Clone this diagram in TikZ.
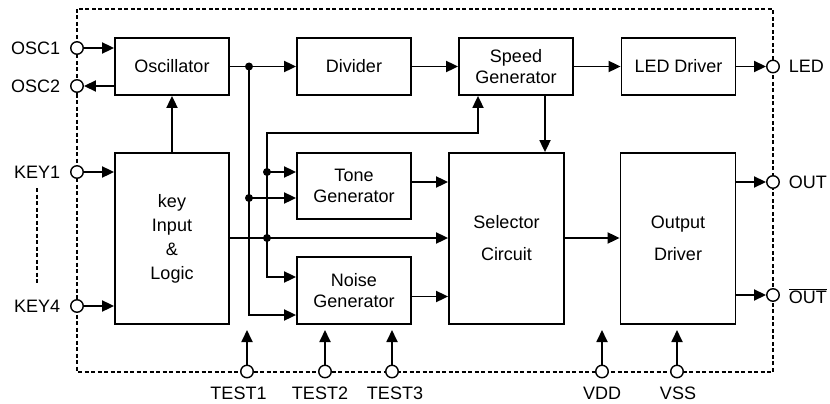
\documentclass[tikz,border=0pt]{standalone}
\usepackage{fontspec}
\setmainfont{Liberation Sans}
\usetikzlibrary{arrows.meta,calc}
\begin{document}
\begin{tikzpicture}[x=1pt,y=-1pt, line width=1.8pt,
  blk/.style={draw, minimum width=114pt, inner sep=0pt, align=center, font=\fontsize{18}{21.5}\selectfont},
  pinc/.style={circle, draw, fill=white, minimum size=12.5pt, inner sep=0pt, line width=1.4pt},
  arr/.style={-{Triangle[length=12pt,width=11pt]}},
  jdot/.style={circle, fill, inner sep=0pt, minimum size=8pt},
  lbl/.style={font=\fontsize{18}{20}\selectfont, inner sep=0pt},
  bord/.style={line width=1.2pt, dash pattern=on 4pt off 2.5pt}]
\useasboundingbox (0,0) rectangle (830,404);
\draw[bord] (77,9) rectangle (773,372);

% blocks
\node[blk, minimum height=57pt] (osc) at (172,66.5) {Oscillator};
\node[blk, minimum height=57pt] (div) at (354,66.5) {Divider};
\node[blk, minimum height=57pt] (spd) at (516,66.5) {Speed\\Generator};
\node[blk, minimum height=57pt] (led) at (678.5,66.5) {LED Driver};
\node[blk, minimum height=171pt] (key) at (172,238.5) {key\\[2.5pt]Input\\[2.5pt]\&\\[2.5pt]Logic};
\node[blk, minimum height=66pt] (tone) at (354,186) {Tone\\Generator};
\node[blk, minimum height=67pt] (noise) at (354,290.5) {Noise\\Generator};
\node[blk, minimum height=171pt, minimum width=115pt] (sel) at (506.5,238.5) {Selector\\[10.5pt]Circuit};
\node[blk, minimum height=171pt, minimum width=115pt] (outd) at (678,238.5) {Output\\[10.5pt]Driver};

% pins
\node[pinc] (osc1) at (77,48) {};
\node[pinc] (osc2) at (77,86) {};
\node[pinc] (key1) at (77,172) {};
\node[pinc] (key4) at (77,306) {};
\node[pinc] (ledp) at (773,66.5) {};
\node[pinc] (outp) at (773,182) {};
\node[pinc] (outbp) at (773,295) {};
\node[pinc] (t1) at (247,371.5) {};
\node[pinc] (t2) at (325,371.5) {};
\node[pinc] (t3) at (392,371.5) {};
\node[pinc] (vdd) at (602,371.5) {};
\node[pinc] (vss) at (677,371.5) {};

% labels
\node[lbl, anchor=east] (losc1) at (61,48) {OSC1};
\node[lbl, anchor=east] (losc2) at (61,86) {OSC2};
\node[lbl, anchor=east] (lkey1) at (61,172) {KEY1};
\node[lbl, anchor=east] (lkey4) at (61,306) {KEY4};
\node[lbl, anchor=west] (lled) at (788,66.5) {LED};
\node[lbl, anchor=west] (lout) at (788,182) {OUT};
\node[lbl, anchor=west] (loutb) at (788,296) {$\overline{\hbox{OUT}}$};
\node[lbl] (lt1) at (238.5,393.5) {TEST1};
\node[lbl] (lt2) at (320,393.5) {TEST2};
\node[lbl] (lt3) at (395,393.5) {TEST3};
\node[lbl] (lvdd) at (602,393.5) {VDD};
\node[lbl] (lvss) at (678,393.5) {VSS};

\draw[bord] (lkey1.south) ++(0,9) -- ($(lkey4.north)+(0,-15)$);

% helper levels
\coordinate (ja) at (249,66.5);
\coordinate (jb) at (249,198);
\coordinate (jc) at (267,172);
\coordinate (jd) at (267,238);
\coordinate (yn1) at (0,277);
\coordinate (yn2) at (0,315);
\coordinate (ys) at (0,133);
\coordinate (xsp) at (478,0);
\coordinate (xsel) at (545,0);
\coordinate (yto) at (0,182);
\coordinate (yno) at (0,296.5);
\coordinate (ymid) at (0,238);
\coordinate (yend) at (0,330);

% connectors
\draw[arr] (osc1) -- (osc1 -| osc.west);
\draw[arr] (osc2 -| osc.west) -- (osc2);
\draw[arr] (key1) -- (key1 -| key.west);
\draw[arr] (key4) -- (key4 -| key.west);
\draw[arr] (key.north) -- (osc.south);
\draw[arr] (osc.east) -- (div.west);
\draw[arr] (div.east) -- (spd.west);
\draw[arr] (spd.east) -- (led.west);
\draw[arr] (led.east) -- (ledp);

\draw (ja) -- (jb);
\draw[arr] (jb) |- (noise.west |- yn2);
\draw[arr] (jb) -- (tone.west |- jb);
\draw[arr] (jc) -- (tone.west |- jc);
\draw[arr] (jd) |- (noise.west |- yn1);
\draw[arr] (jd) |- (xsp |- ys) -- (xsp |- spd.south);
\draw[arr] (key.east |- ymid) -- (sel.west |- ymid);
\draw[arr] (xsel |- spd.south) -- (xsel |- sel.north);
\draw[arr] (tone.east |- yto) -- (sel.west |- yto);
\draw[arr] (noise.east |- yno) -- (sel.west |- yno);
\draw[arr] (sel.east |- ymid) -- (outd.west |- ymid);
\draw[arr] (outd.east |- outp) -- (outp);
\draw[arr] (outd.east |- outbp) -- (outbp);

\draw[arr] (t1) -- (t1 |- yend);
\draw[arr] (t2) -- (t2 |- yend);
\draw[arr] (t3) -- (t3 |- yend);
\draw[arr] (vdd) -- (vdd |- yend);
\draw[arr] (vss) -- (vss |- yend);

% junction dots
\node[jdot] at (ja) {};
\node[jdot] at (jb) {};
\node[jdot] at (jc) {};
\node[jdot] at (jd) {};
\end{tikzpicture}
\end{document}
